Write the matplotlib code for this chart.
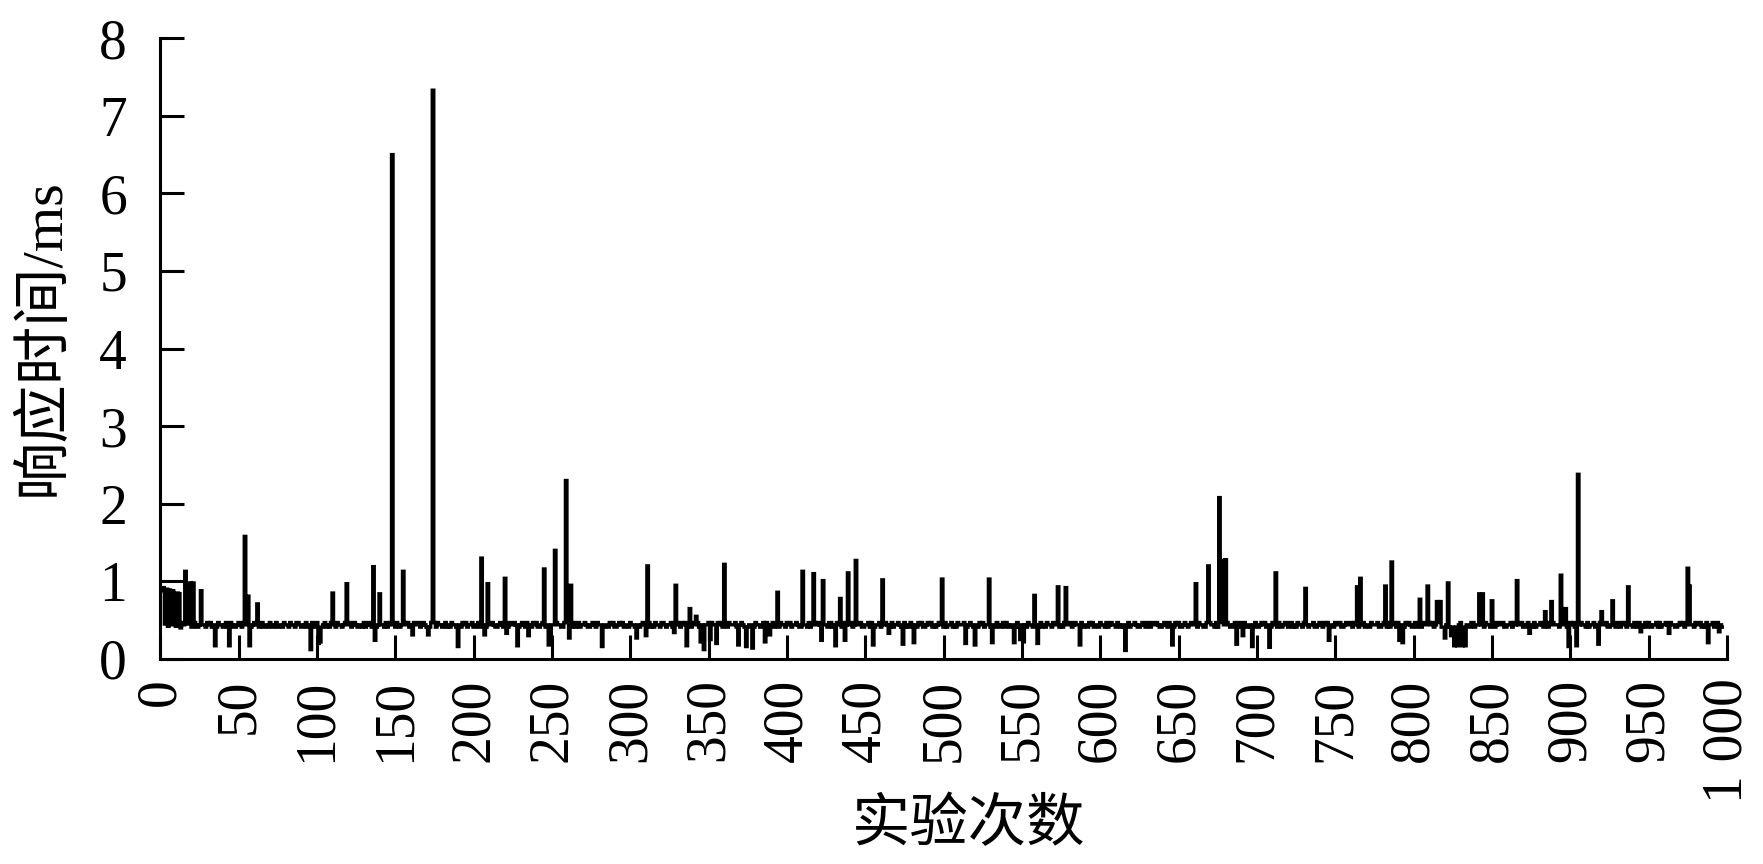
import numpy as np
import matplotlib
matplotlib.use("Agg")
import matplotlib.pyplot as plt

plt.rcParams['font.family'] = ['Liberation Serif', 'Noto Sans CJK SC', 'DejaVu Sans']

# ---------------- data ----------------
n_trials = 997
x_label = "实验次数"
y_label = "响应时间/ms"
x_ticks = list(range(0, 1001, 50))
x_tick_labels = [str(v) if v < 1000 else "1 000" for v in x_ticks]
y_ticks = list(range(0, 9))

# baseline texture (estimated), one digit per trial: value = 0.32 + 0.03*digit
baseline_rows = [
    "4354453345 4535443543 4533464435 4534335443 4534543345 4354465345 4334534435 4345344354 4354435543 3453445345",
    "5434534354 4354434534 5345434435 3454354345 4435345443 5434354534 3544534543 4354535443 4534354435 4354534453",
    "3453544354 4543345435 4354454334 5435443545 3345434554 4354433545 4435345344 5433454354 4534435453 3454534435",
    "4435434553 4534354435 5434453345 4354534435 4453345445 3544354534 4354445334 5435344535 4433545434 5344354435",
    "4534454335 4435343545 4354435534 4543354434 5345445334 4535434453 3454435344 5434534354 4435453345 4534345443",
    "5344534354 4453345435 4354534443 5435434535 4344535344 5435443345 4534354435 4453435344 5345443534 4354534435",
    "4435345443 5434364534 4543345435 4354454334 5435443545 3345434554 4354433545 4435345344 5433454354 4534435453",
    "3454534435 4435434553 4534354435 5434453345 4354534435 4453345445 3544354534 4354445334 5435344535 4433545434",
    "5344354435 4534454335 4435343545 4354435534 4543354434 5345445334 4535434453 3454435344 5434534354 4435453345",
    "4534345443 5344534354 4453345435 4354534443 5435434535 4344535344 5435443345 4534354435 4453435344 5345443534",
]

# spikes and dips: (trial, response time in ms)
peaks = [
    (1, 0.88), (2, 0.92), (3, 0.45), (4, 0.90), (5, 0.42), (6, 0.89), (7, 0.44), (8, 0.88),
    (9, 0.63), (10, 0.42), (11, 0.85), (12, 0.84), (13, 0.40), (16, 1.13), (17, 0.45),
    (19, 0.98), (21, 0.98), (26, 0.88), (35, 0.17), (44, 0.17), (54, 1.58), (56, 0.81),
    (57, 0.17), (62, 0.71), (96, 0.12), (101, 0.20), (102, 0.22), (110, 0.85), (119, 0.97),
    (136, 1.19), (137, 0.24), (140, 0.84), (148, 6.50), (155, 1.13), (161, 0.31), (171, 0.31),
    (174, 7.33), (190, 0.16), (205, 1.30), (207, 0.31), (209, 0.97), (220, 1.04), (221, 0.33),
    (228, 0.17), (235, 0.30), (245, 1.16), (248, 0.18), (249, 0.22), (252, 1.40), (259, 2.30),
    (261, 0.27), (262, 0.95), (282, 0.16), (304, 0.27), (310, 0.30), (311, 1.20), (328, 0.34),
    (329, 0.95), (336, 0.17), (338, 0.65), (342, 0.55), (345, 0.22), (347, 0.12), (351, 0.25),
    (355, 0.20), (360, 1.22), (369, 0.18), (374, 0.16), (378, 0.14), (386, 0.22), (389, 0.31),
    (394, 0.86), (410, 1.13), (417, 1.10), (422, 0.24), (423, 1.01), (431, 0.17), (434, 0.78),
    (437, 0.24), (439, 1.11), (444, 1.27), (455, 0.18), (461, 1.02), (465, 0.33), (474, 0.19),
    (481, 0.21), (499, 1.03), (514, 0.20), (520, 0.18), (529, 1.03), (531, 0.21), (545, 0.21),
    (549, 0.25), (551, 0.22), (558, 0.82), (560, 0.20), (573, 0.93), (578, 0.92), (587, 0.18),
    (616, 0.11), (646, 0.18), (661, 0.97), (669, 1.20), (676, 2.08), (678, 1.27), (680, 1.28),
    (687, 0.19), (691, 0.30), (697, 0.16), (708, 0.15), (712, 1.11), (731, 0.91), (746, 0.24),
    (764, 0.93), (766, 1.04), (782, 0.94), (786, 1.25), (791, 0.24), (793, 0.21), (804, 0.77),
    (809, 0.94), (815, 0.74), (817, 0.74), (820, 0.27), (822, 0.98), (824, 0.30), (826, 0.17),
    (828, 0.17), (831, 0.17), (833, 0.17), (842, 0.84), (844, 0.84), (850, 0.75), (866, 1.01),
    (874, 0.33), (884, 0.61), (888, 0.74), (894, 1.08), (897, 0.65), (899, 0.16), (904, 0.17),
    (905, 2.38), (918, 0.19), (920, 0.61), (927, 0.75), (937, 0.93), (945, 0.35), (963, 0.33),
    (975, 1.17), (976, 0.94), (988, 0.21), (995, 0.35),
]

# ---------------- build series ----------------
digits = "".join(r.replace(" ", "") for r in baseline_rows)[:n_trials]
values = np.array([0.32 + 0.03 * int(c) for c in digits])
for t, v in peaks:
    values[t - 1] = v
trials = np.arange(1, n_trials + 1)

# ---------------- figure ----------------
fig = plt.figure(figsize=(17.63, 8.64), dpi=100)
ax = fig.add_axes([0.0910, 0.2373, 0.8886, 0.7185])

ax.plot(trials, values, color='black', linewidth=2.4, drawstyle='steps-mid',
        solid_joinstyle='miter')

ax.set_xlim(0, 1000)
ax.set_ylim(0, 8)
ax.set_xticks(x_ticks)
ax.set_xticklabels(x_tick_labels)
ax.set_yticks(y_ticks)

for s in ['top', 'right']:
    ax.spines[s].set_visible(False)
for s in ['left', 'bottom']:
    ax.spines[s].set_linewidth(2.2)

ax.tick_params(axis='both', direction='in', length=17, width=2.2, labelsize=40)
ax.tick_params(axis='x', labelrotation=90, pad=14)
ax.tick_params(axis='y', pad=24)

ax.set_xlabel(x_label, fontsize=42, va='center')
ax.xaxis.set_label_coords(0.516, -0.269)
ax.set_ylabel(y_label, fontsize=42, va='center', ha='center')
ax.yaxis.set_label_coords(-0.075, 0.519)

fig.savefig("out.png", dpi=100, facecolor='white')
